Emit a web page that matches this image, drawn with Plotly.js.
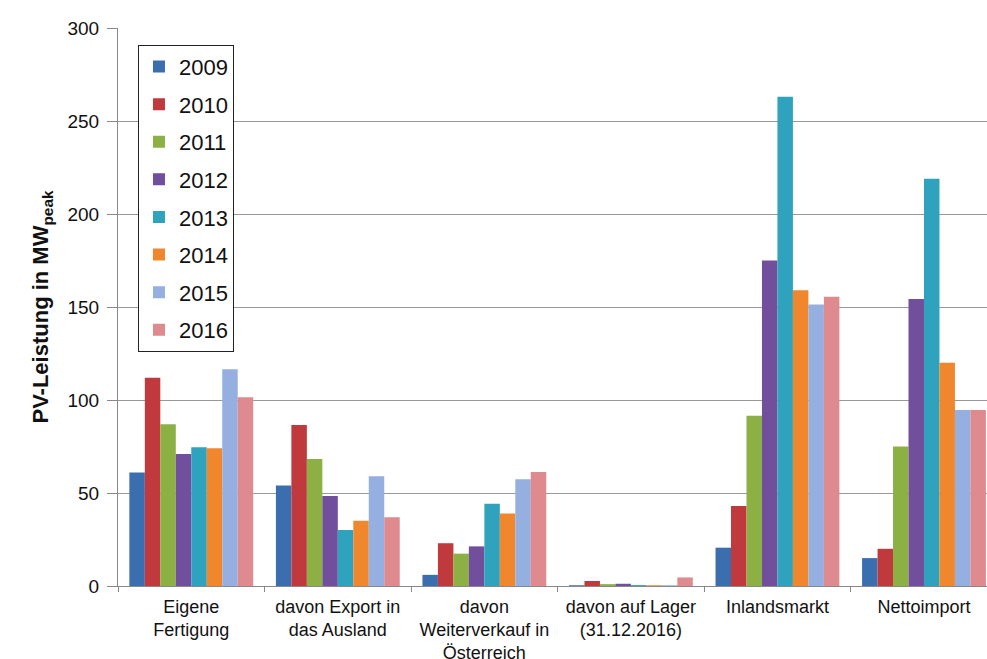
<!DOCTYPE html>
<html>
<head>
<meta charset="utf-8">
<script src="https://cdn.plot.ly/plotly-3.0.1.min.js"></script>
<style>html,body{margin:0;padding:0;background:#fff;}#chart{width:987px;height:659px;}</style>
</head>
<body>
<div id="chart"></div>
<script>
const categories = ["Eigene<br>Fertigung", "davon Export in<br>das Ausland", "davon<br>Weiterverkauf in<br>Österreich", "davon auf Lager<br>(31.12.2016)", "Inlandsmarkt", "Nettoimport"];
const years = ["2009", "2010", "2011", "2012", "2013", "2014", "2015", "2016"];
const v2009 = [61, 54, 6, 0.4, 20.6, 15];
const v2010 = [112, 86.6, 23, 2.7, 43, 20];
const v2011 = [87, 68.3, 17.4, 1, 91.5, 75];
const v2012 = [71, 48.4, 21.3, 1.2, 175, 154.3];
const v2013 = [74.6, 30.1, 44.2, 0.5, 263, 219];
const v2014 = [74, 35.1, 39, 0.4, 159, 120];
const v2015 = [116.5, 59, 57.4, 0.4, 151.4, 94.6];
const v2016 = [101.5, 36.9, 61.3, 4.6, 155.5, 94.6];
const seriesValues = [v2009, v2010, v2011, v2012, v2013, v2014, v2015, v2016];
const colors = ["#3A6EAE", "#C0393C", "#8DB045", "#714F9C", "#2FA3BE", "#F0872D", "#95B0E0", "#DE8A8E"];

const traces = years.map((y, i) => ({
  type: "bar",
  name: y,
  x: categories,
  y: seriesValues[i],
  marker: {color: colors[i]},
  legendgroup: "g" + i
}));

const layout = {
  width: 987, height: 659,
  margin: {l: 118, r: 0, t: 28, b: 73, pad: 0},
  paper_bgcolor: "#ffffff", plot_bgcolor: "#ffffff",
  font: {family: "Liberation Sans, Arial, sans-serif", color: "#111"},
  barmode: "group",
  bargap: 0.155,
  bargroupgap: 0,
  showlegend: true,
  legend: {
    x: 0.023, y: 0.97, xanchor: "left", yanchor: "top",
    bgcolor: "#ffffff", bordercolor: "#222", borderwidth: 1,
    font: {size: 22, color: "#111"},
    tracegroupgap: 6,
    itemwidth: 30
  },
  xaxis: {
    type: "category",
    range: [-0.5, 5.43],
    tickson: "boundaries",
    ticks: "outside", ticklen: 5, tickcolor: "#888",
    ticklabelstandoff: 4,
    showline: true, linecolor: "#888", linewidth: 1,
    showgrid: false,
    tickfont: {size: 18, family: "Liberation Sans Narrow, Liberation Sans, Arial, sans-serif", color: "#111"}
  },
  yaxis: {
    range: [0, 300],
    tickvals: [0, 50, 100, 150, 200, 250, 300],
    ticks: "outside", ticklen: 10, tickcolor: "#888",
    ticklabelstandoff: 4,
    showline: true, linecolor: "#888", linewidth: 1,
    showgrid: true, gridcolor: "#999", gridwidth: 1,
    zeroline: false,
    tickfont: {size: 19, color: "#111"},
    title: {text: "<b>PV-Leistung in MW<sub>peak</sub></b>", font: {size: 22, color: "#111"}, standoff: 12}
  }
};

Plotly.newPlot("chart", traces, layout, {displayModeBar: false, staticPlot: true});
</script>
</body>
</html>
